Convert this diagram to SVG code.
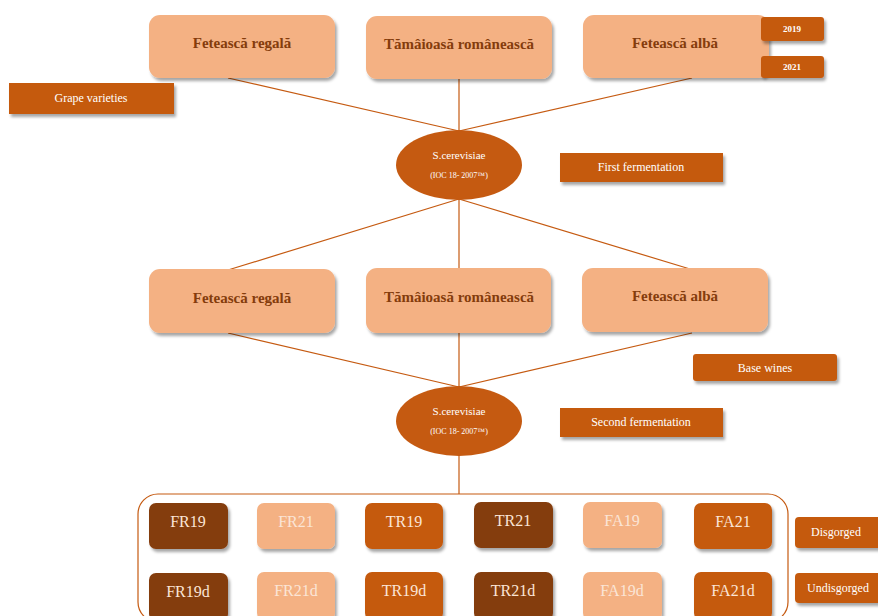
<svg xmlns="http://www.w3.org/2000/svg" width="878" height="616" viewBox="0 0 878 616">
<defs>
<filter id="sh" x="-10%" y="-10%" width="130%" height="140%">
<feDropShadow dx="2" dy="3" stdDeviation="1.5" flood-color="#000" flood-opacity="0.35"/>
</filter>
<style>
.peach{fill:#F4B183;}
.orange{fill:#C55A11;}
.dark{fill:#843C0C;}
.box{filter:url(#sh);}
text{font-family:'Liberation Serif','DejaVu Serif','Times New Roman',serif;}
.vt{font-weight:bold;font-size:15px;fill:#843C0C;text-anchor:middle;}
.lab{font-size:12px;fill:#fff;text-anchor:middle;}
.yr{font-weight:bold;font-size:9px;fill:#fff;text-anchor:middle;}
.cell{font-size:16px;fill:#FBE5D6;text-anchor:middle;}
.el1{font-size:11px;fill:#fff;text-anchor:middle;}
.el2{font-size:8px;fill:#fff;text-anchor:middle;}
.con{stroke:#C55A11;stroke-width:1.2;fill:none;}
</style>
</defs>
<rect width="878" height="616" fill="#fff"/>
<g id="connectors">
<line class="con" x1="228" y1="78" x2="459" y2="131"/>
<line class="con" x1="459" y1="79" x2="459" y2="130"/>
<line class="con" x1="692" y1="78" x2="459" y2="131"/>
<line class="con" x1="459" y1="199" x2="228" y2="270"/>
<line class="con" x1="459" y1="199" x2="459" y2="268"/>
<line class="con" x1="459" y1="199" x2="690" y2="269"/>
<line class="con" x1="228" y1="333" x2="459" y2="387"/>
<line class="con" x1="459" y1="333" x2="459" y2="387"/>
<line class="con" x1="692" y1="333" x2="459" y2="387"/>
<line class="con" x1="459" y1="455" x2="459" y2="494"/>
</g>
<g id="fr1"><rect class="peach box" x="149" y="15" width="186" height="63" rx="11"/><text class="vt" x="242" y="48">Fetească regală</text></g>
<g id="tr1"><rect class="peach box" x="366" y="16" width="186" height="63" rx="11"/><text class="vt" x="459" y="49">Tămâioasă românească</text></g>
<g id="fa1"><rect class="peach box" x="583" y="15" width="186" height="63" rx="11"/><text class="vt" x="675" y="48">Fetească albă</text></g>
<g id="y2019"><rect class="orange box" x="761" y="17" width="63" height="24" rx="3"/><text class="yr" x="792" y="32">2019</text></g>
<g id="y2021"><rect class="orange box" x="761" y="56" width="63" height="22" rx="3"/><text class="yr" x="792" y="70">2021</text></g>
<g id="grape"><rect class="orange box" x="9" y="83" width="165" height="31"/><text class="lab" x="91" y="102">Grape varieties</text></g>
<g id="ferm1"><ellipse class="orange" cx="459" cy="165" rx="63" ry="35"/><text class="el1" x="459" y="159">S.cerevisiae</text><text class="el2" x="459" y="178">(IOC 18- 2007™)</text></g>
<g id="first"><rect class="orange box" x="560" y="153" width="163" height="29"/><text class="lab" x="641" y="171">First fermentation</text></g>
<g id="fr2"><rect class="peach box" x="149" y="269" width="186" height="64" rx="11"/><text class="vt" x="242" y="303">Fetească regală</text></g>
<g id="tr2"><rect class="peach box" x="366" y="268" width="185" height="65" rx="11"/><text class="vt" x="459" y="302">Tămâioasă românească</text></g>
<g id="fa2"><rect class="peach box" x="582" y="268" width="186" height="64" rx="11"/><text class="vt" x="675" y="301">Fetească albă</text></g>
<g id="base"><rect class="orange box" x="693" y="354" width="144" height="27" rx="3"/><text class="lab" x="765" y="372">Base wines</text></g>
<g id="ferm2"><ellipse class="orange" cx="459" cy="421" rx="63" ry="35"/><text class="el1" x="459" y="415">S.cerevisiae</text><text class="el2" x="459" y="434">(IOC 18- 2007™)</text></g>
<g id="second"><rect class="orange box" x="560" y="408" width="163" height="29"/><text class="lab" x="641" y="426">Second fermentation</text></g>
<g id="container"><rect x="138" y="494" width="650" height="128" rx="20" fill="none" stroke="#C55A11" stroke-width="1.2"/></g>
<g id="FR19"><rect class="dark box" x="149" y="503" width="79" height="46" rx="7"/><text class="cell" x="188" y="527">FR19</text></g>
<g id="FR21"><rect class="peach box" x="257" y="503" width="78" height="46" rx="7"/><text class="cell" x="296" y="527">FR21</text></g>
<g id="TR19"><rect class="orange box" x="365" y="503" width="78" height="46" rx="7"/><text class="cell" x="404" y="527">TR19</text></g>
<g id="TR21"><rect class="dark box" x="474" y="502" width="79" height="46" rx="7"/><text class="cell" x="513" y="526">TR21</text></g>
<g id="FA19"><rect class="peach box" x="583" y="502" width="79" height="46" rx="7"/><text class="cell" x="622" y="526">FA19</text></g>
<g id="FA21"><rect class="orange box" x="694" y="503" width="78" height="46" rx="7"/><text class="cell" x="733" y="527">FA21</text></g>
<g id="FR19d"><rect class="dark box" x="149" y="573" width="79" height="48" rx="7"/><text class="cell" x="188" y="597">FR19d</text></g>
<g id="FR21d"><rect class="peach box" x="257" y="572" width="78" height="48" rx="7"/><text class="cell" x="296" y="596">FR21d</text></g>
<g id="TR19d"><rect class="orange box" x="365" y="572" width="78" height="48" rx="7"/><text class="cell" x="404" y="596">TR19d</text></g>
<g id="TR21d"><rect class="dark box" x="474" y="572" width="79" height="48" rx="7"/><text class="cell" x="513" y="596">TR21d</text></g>
<g id="FA19d"><rect class="peach box" x="583" y="572" width="79" height="48" rx="7"/><text class="cell" x="622" y="596">FA19d</text></g>
<g id="FA21d"><rect class="orange box" x="694" y="572" width="78" height="48" rx="7"/><text class="cell" x="733" y="596">FA21d</text></g>
<g id="disg"><rect class="orange box" x="795" y="517" width="90" height="31" rx="4"/><text class="lab" x="836" y="536">Disgorged</text></g>
<g id="undisg"><rect class="orange box" x="795" y="573" width="90" height="30" rx="4"/><text class="lab" x="838" y="592">Undisgorged</text></g>
</svg>
